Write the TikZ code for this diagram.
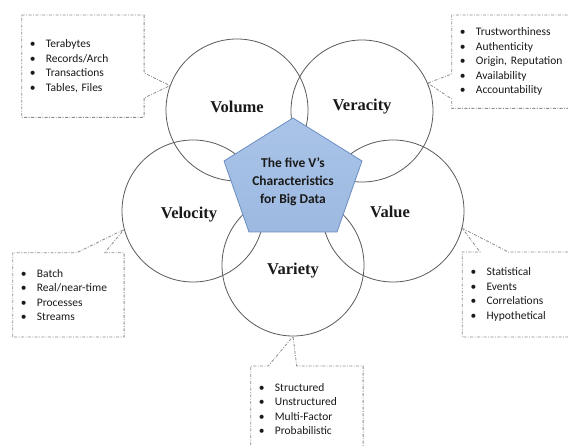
\documentclass[tikz,border=0pt]{standalone}
\usepackage{fontspec}
\setmainfont{Carlito}
\newfontfamily\vserif{Liberation Serif}
\usepackage{tikz}
\usetikzlibrary{calc}
\frenchspacing
\definecolor{ring}{HTML}{5A5A5A}
\definecolor{note}{HTML}{8C8C8C}
\definecolor{penta}{HTML}{9DB9E0}
\definecolor{pentatop}{HTML}{AAC4E8}
\definecolor{pentaline}{HTML}{6B8EC2}
\definecolor{ink}{HTML}{1A1A1A}
\tikzset{
  vring/.style={circle, draw=ring, line width=0.8pt, minimum size=142pt, inner sep=0pt},
  vlab/.style={text=ink, font=\vserif\bfseries\fontsize{16.5}{18}\selectfont},
  notebox/.style={anchor=north west, inner xsep=8pt, inner ysep=0pt, align=left, text=ink, font=\fontsize{11.5}{14.5}\selectfont},
  noteline/.style={draw=note, line width=0.8pt, dash pattern=on 3pt off 1.5pt on 0.8pt off 1.5pt},
  corelab/.style={align=center, text=ink, font=\bfseries\fontsize{13.5}{18}\selectfont},
}
\newcommand{\vbul}{\makebox[16pt][l]{\textbullet}}

\begin{document}
\begin{tikzpicture}[x=1pt,y=-1pt]
  \useasboundingbox (0,0) rectangle (568,446);
  \fill[white] (0,0) rectangle (568,446);
  \clip (0,0) rectangle (568,446);

  % the five circles
  \node[vring] (volume)   at (237,110) {};
  \node[vring] (veracity) at (362,111) {};
  \node[vring] (velocity) at (193,211) {};
  \node[vring] (value)    at (393,211) {};
  \node[vring] (variety)  at (293,265) {};

  % centre pentagon
  \coordinate (P1) at (293,118);
  \coordinate (P2) at (362,161);
  \coordinate (P3) at (337,232);
  \coordinate (P4) at (249,232);
  \coordinate (P5) at (224,161);
  \draw[top color=pentatop, bottom color=penta, draw=pentaline, line width=0.8pt] (P1) -- (P2) -- (P3) -- (P4) -- (P5) -- cycle;
  \node[corelab] (core) at (293,182) {The five V's\\Characteristics\\for Big Data};

  \node[vlab] (volumelab)   at (237,107) {Volume};
  \node[vlab] (veracitylab) at (362,107) {Veracity};
  \node[vlab] (velocitylab) at (189,215) {Velocity};
  \node[vlab] (valuelab)    at (390,212) {Value};
  \node[vlab] (varietylab)  at (293,271) {Variety};

  % notes
  \node[notebox, text width=106pt, minimum height=102pt] (volnote) at (21.7,15)
    {\vbul Terabytes\\\vbul Records/Arch\\\vbul Transactions\\\vbul Tables, Files};
  \node[notebox, text width=120pt, minimum height=93pt] (vernote) at (451.7,15)
    {\vbul Trustworthiness\\\vbul Authenticity\\\vbul Origin, Reputation\\\vbul Availability\\\vbul Accountability};
  \node[notebox, text width=95pt, minimum height=84pt] (velnote) at (12.7,252.7)
    {\vbul Batch\\\vbul Real/near-time\\\vbul Processes\\\vbul Streams};
  \node[notebox, text width=110pt, minimum height=84.7pt] (valnote) at (462.3,252)
    {\vbul Statistical\\\vbul Events\\\vbul Correlations\\\vbul Hypothetical};
  \node[notebox, text width=96pt, minimum height=85.4pt] (varnote) at (250.7,366)
    {\vbul Structured\\\vbul Unstructured\\\vbul Multi-Factor\\\vbul Probabilistic};

  \draw[noteline] (volnote.north west) -- (volnote.north east) -- ++(0,58) -- (volume.160)
    -- ($(volnote.north east)+(0,83)$) -- (volnote.south east) -- (volnote.south west) -- cycle;
  \draw[noteline] (vernote.north east) -- (vernote.north west) -- ++(0,59) -- (veracity.23)
    -- ($(vernote.north west)+(0,84)$) -- (vernote.south west) -- (vernote.south east);
  \draw[noteline] (velnote.south west) -- (velnote.north west) -- ++(64,0) -- (velocity.195)
    -- ($(velnote.north west)+(92,0)$) -- (velnote.north east) -- (velnote.south east) -- cycle;
  \draw[noteline] (valnote.south east) -- (valnote.south west) -- (valnote.north west) -- ++(17.7,0)
    -- (value.346) -- ($(valnote.north west)+(46,0)$) -- (valnote.north east);
  \draw[noteline] (varnote.south west) -- (varnote.north west) -- ++(17.6,0) -- (variety.270)
    -- ($(varnote.north west)+(46,0)$) -- (varnote.north east) -- (varnote.south east);
\end{tikzpicture}
\end{document}
